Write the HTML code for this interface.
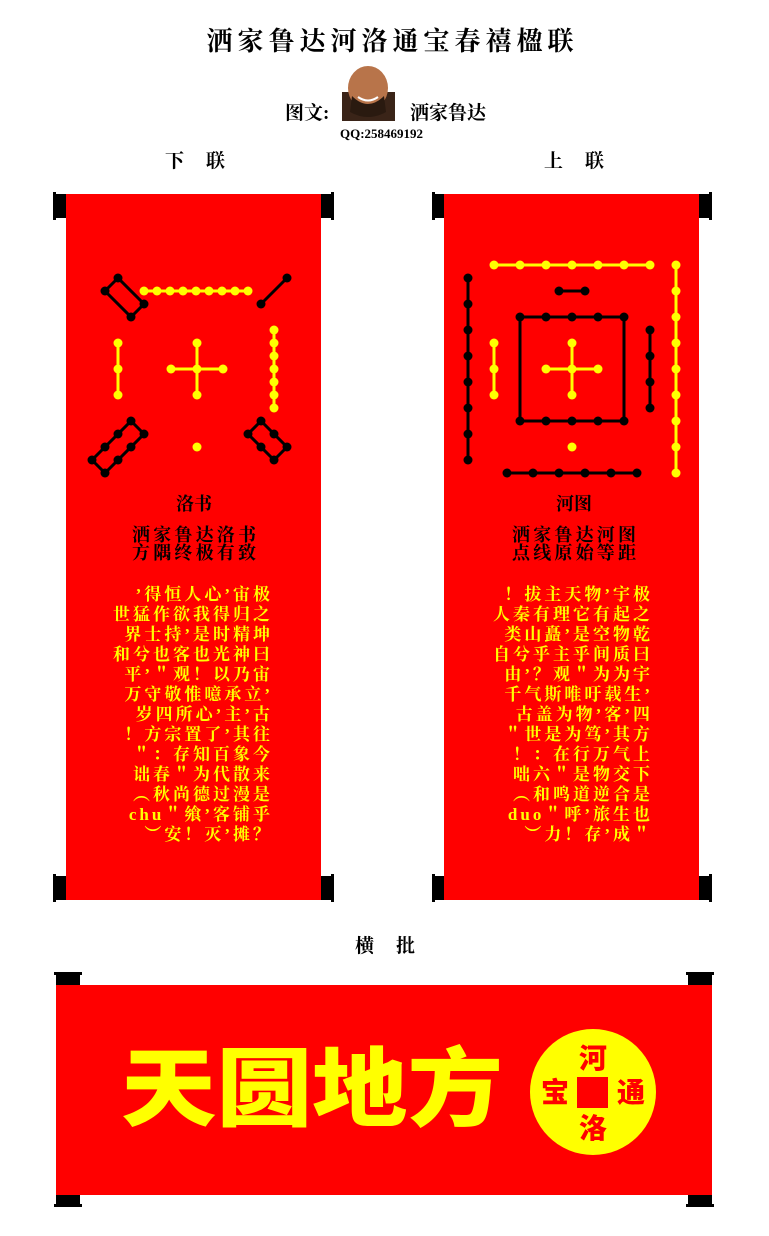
<!DOCTYPE html>
<html><head><meta charset="utf-8"><style>
html,body{margin:0;padding:0;background:#fff;}
svg{display:block}
.t{font-family:"Liberation Serif","Noto Serif CJK SC",serif;font-weight:bold;}
.y{fill:#ffff00;font-family:"Liberation Serif","Noto Serif CJK SC",serif;font-weight:bold;font-size:17px;letter-spacing:3px;}
.k{fill:#000;font-family:"Liberation Serif","Noto Serif CJK SC",serif;font-size:18px;}
</style></head><body>
<svg width="769" height="1236" viewBox="0 0 769 1236" xmlns="http://www.w3.org/2000/svg">
<rect width="769" height="1236" fill="#fff"/>
<text class="t" x="390" y="50" font-size="26" text-anchor="middle" textLength="367" lengthAdjust="spacing">洒家鲁达河洛通宝春禧楹联</text>
<text class="t" x="285" y="119" font-size="19" font-weight="normal">图文:</text>
<g>
<rect x="342" y="92" width="53" height="29" fill="#3a2418"/>
<ellipse cx="368" cy="88" rx="20" ry="22" fill="#b8744a"/>
<path d="M352 96 Q368 112 384 96 L386 112 Q368 122 350 112 Z" fill="#2a1a10"/>
<path d="M358 97 Q368 104 378 97" stroke="#fff" stroke-width="2" fill="none"/>
</g>
<text class="t" x="410" y="119" font-size="19" font-weight="normal">洒家鲁达</text>
<text class="t" x="340" y="138" font-size="13">QQ:258469192</text>
<text class="t" x="165" y="167" font-size="19" textLength="60">下 联</text>
<text class="t" x="544" y="167" font-size="19" textLength="60">上 联</text>

<rect x="66" y="194" width="255" height="706" fill="#ff0000"/>
<g fill="#000">
<rect x="54" y="194" width="12" height="24"/><rect x="53" y="192" width="3" height="28"/>
<rect x="321" y="194" width="12" height="24"/><rect x="331" y="192" width="3" height="28"/>
<rect x="54" y="876" width="12" height="24"/><rect x="53" y="874" width="3" height="28"/>
<rect x="321" y="876" width="12" height="24"/><rect x="331" y="874" width="3" height="28"/>
<rect x="433" y="194" width="11" height="24"/><rect x="432" y="192" width="3" height="28"/>
<rect x="699" y="194" width="11" height="24"/><rect x="709" y="192" width="3" height="28"/>
<rect x="433" y="876" width="11" height="24"/><rect x="432" y="874" width="3" height="28"/>
<rect x="699" y="876" width="11" height="24"/><rect x="709" y="874" width="3" height="28"/>
</g>
<rect x="444" y="194" width="255" height="706" fill="#ff0000"/>

<g stroke="#000" stroke-width="3" fill="none">
<polygon points="118,278 105,291 131,317 144,304"/>
<line x1="287" y1="278" x2="261" y2="304"/>
<polygon points="131,421 92,460 105,473 144,434"/>
<polygon points="261,421 248,434 274,460 287,447"/>
</g>
<g fill="#000">
<circle cx="118" cy="278" r="4.5"/><circle cx="105" cy="291" r="4.5"/><circle cx="131" cy="317" r="4.5"/><circle cx="144" cy="304" r="4.5"/>
<circle cx="287" cy="278" r="4.5"/><circle cx="261" cy="304" r="4.5"/>
<circle cx="131" cy="421" r="4.5"/><circle cx="144" cy="434" r="4.5"/><circle cx="118" cy="434" r="4.5"/><circle cx="105" cy="447" r="4.5"/><circle cx="131" cy="447" r="4.5"/><circle cx="92" cy="460" r="4.5"/><circle cx="118" cy="460" r="4.5"/><circle cx="105" cy="473" r="4.5"/>
<circle cx="261" cy="421" r="4.5"/><circle cx="248" cy="434" r="4.5"/><circle cx="274" cy="434" r="4.5"/><circle cx="261" cy="447" r="4.5"/><circle cx="287" cy="447" r="4.5"/><circle cx="274" cy="460" r="4.5"/>
</g>
<g stroke="#ffff00" stroke-width="3">
<line x1="144" y1="291" x2="248" y2="291"/>
<line x1="118" y1="343" x2="118" y2="395"/>
<line x1="171" y1="369" x2="223" y2="369"/><line x1="197" y1="343" x2="197" y2="395"/>
<line x1="274" y1="330" x2="274" y2="408"/>
</g>
<g fill="#ffff00">
<circle cx="144" cy="291" r="4.5"/><circle cx="157" cy="291" r="4.5"/><circle cx="170" cy="291" r="4.5"/><circle cx="183" cy="291" r="4.5"/><circle cx="196" cy="291" r="4.5"/><circle cx="209" cy="291" r="4.5"/><circle cx="222" cy="291" r="4.5"/><circle cx="235" cy="291" r="4.5"/><circle cx="248" cy="291" r="4.5"/>
<circle cx="118" cy="343" r="4.5"/><circle cx="118" cy="369" r="4.5"/><circle cx="118" cy="395" r="4.5"/>
<circle cx="197" cy="369" r="4.5"/><circle cx="171" cy="369" r="4.5"/><circle cx="223" cy="369" r="4.5"/><circle cx="197" cy="343" r="4.5"/><circle cx="197" cy="395" r="4.5"/>
<circle cx="274" cy="330" r="4.5"/><circle cx="274" cy="343" r="4.5"/><circle cx="274" cy="356" r="4.5"/><circle cx="274" cy="369" r="4.5"/><circle cx="274" cy="382" r="4.5"/><circle cx="274" cy="395" r="4.5"/><circle cx="274" cy="408" r="4.5"/>
<circle cx="197" cy="447" r="4.5"/>
</g>

<g stroke="#000" stroke-width="3" fill="none">
<line x1="468" y1="278" x2="468" y2="460"/>
<line x1="507" y1="473" x2="637" y2="473"/>
<line x1="559" y1="291" x2="585" y2="291"/>
<rect x="520" y="317" width="104" height="104"/>
<line x1="650" y1="330" x2="650" y2="408"/>
</g>
<g fill="#000">
<circle cx="468" cy="278" r="4.5"/><circle cx="468" cy="304" r="4.5"/><circle cx="468" cy="330" r="4.5"/><circle cx="468" cy="356" r="4.5"/><circle cx="468" cy="382" r="4.5"/><circle cx="468" cy="408" r="4.5"/><circle cx="468" cy="434" r="4.5"/><circle cx="468" cy="460" r="4.5"/>
<circle cx="507" cy="473" r="4.5"/><circle cx="533" cy="473" r="4.5"/><circle cx="559" cy="473" r="4.5"/><circle cx="585" cy="473" r="4.5"/><circle cx="611" cy="473" r="4.5"/><circle cx="637" cy="473" r="4.5"/>
<circle cx="559" cy="291" r="4.5"/><circle cx="585" cy="291" r="4.5"/>
<circle cx="520" cy="317" r="4.5"/><circle cx="546" cy="317" r="4.5"/><circle cx="572" cy="317" r="4.5"/><circle cx="598" cy="317" r="4.5"/><circle cx="624" cy="317" r="4.5"/>
<circle cx="520" cy="421" r="4.5"/><circle cx="546" cy="421" r="4.5"/><circle cx="572" cy="421" r="4.5"/><circle cx="598" cy="421" r="4.5"/><circle cx="624" cy="421" r="4.5"/>
<circle cx="650" cy="330" r="4.5"/><circle cx="650" cy="356" r="4.5"/><circle cx="650" cy="382" r="4.5"/><circle cx="650" cy="408" r="4.5"/>
</g>
<g stroke="#ffff00" stroke-width="3">
<line x1="494" y1="265" x2="650" y2="265"/>
<line x1="676" y1="265" x2="676" y2="473"/>
<line x1="494" y1="343" x2="494" y2="395"/>
<line x1="546" y1="369" x2="598" y2="369"/><line x1="572" y1="343" x2="572" y2="395"/>
</g>
<g fill="#ffff00">
<circle cx="494" cy="265" r="4.5"/><circle cx="520" cy="265" r="4.5"/><circle cx="546" cy="265" r="4.5"/><circle cx="572" cy="265" r="4.5"/><circle cx="598" cy="265" r="4.5"/><circle cx="624" cy="265" r="4.5"/><circle cx="650" cy="265" r="4.5"/>
<circle cx="676" cy="265" r="4.5"/><circle cx="676" cy="291" r="4.5"/><circle cx="676" cy="317" r="4.5"/><circle cx="676" cy="343" r="4.5"/><circle cx="676" cy="369" r="4.5"/><circle cx="676" cy="395" r="4.5"/><circle cx="676" cy="421" r="4.5"/><circle cx="676" cy="447" r="4.5"/><circle cx="676" cy="473" r="4.5"/>
<circle cx="494" cy="343" r="4.5"/><circle cx="494" cy="369" r="4.5"/><circle cx="494" cy="395" r="4.5"/>
<circle cx="572" cy="369" r="4.5"/><circle cx="546" cy="369" r="4.5"/><circle cx="598" cy="369" r="4.5"/><circle cx="572" cy="343" r="4.5"/><circle cx="572" cy="395" r="4.5"/>
<circle cx="572" cy="447" r="4.5"/>
</g>

<text class="k" x="194" y="510" text-anchor="middle" font-weight="bold">洛书</text>
<text class="k" x="194" y="541" text-anchor="middle" font-weight="bold" textLength="124">洒家鲁达洛书</text>
<text class="k" x="194" y="559" text-anchor="middle" font-weight="bold" textLength="124">方隅终极有致</text>
<text class="k" x="574" y="510" text-anchor="middle" font-weight="bold">河图</text>
<text class="k" x="574" y="541" text-anchor="middle" font-weight="bold" textLength="124">洒家鲁达河图</text>
<text class="k" x="574" y="559" text-anchor="middle" font-weight="bold" textLength="124">点线原始等距</text>

<g class="y" text-anchor="end">
<text x="273" y="600">’得恒人心’宙极</text>
<text x="273" y="620">世猛作欲我得归之</text>
<text x="273" y="640">界士持’是时精坤</text>
<text x="273" y="660">和兮也客也光神曰</text>
<text x="273" y="680">平’＂观！以乃宙</text>
<text x="273" y="700">万守敬惟噫承立’</text>
<text x="273" y="720">岁四所心’主’古</text>
<text x="273" y="740">！方宗置了’其往</text>
<text x="273" y="760">＂：存知百象今</text>
<text x="273" y="780">诎春＂为代散来</text>
<text x="273" y="800">︵秋尚德过漫是</text>
<text x="273" y="820">chu＂飨’客铺乎</text>
<text x="273" y="840">︶安！灭’摊？</text>
</g>
<g class="y" text-anchor="end">
<text x="653" y="600">！拔主天物’宇极</text>
<text x="653" y="620">人秦有理它有起之</text>
<text x="653" y="640">类山矗’是空物乾</text>
<text x="653" y="660">自兮乎主乎间质曰</text>
<text x="653" y="680">由’？观＂为为宇</text>
<text x="653" y="700">千气斯唯吁载生’</text>
<text x="653" y="720">古盖为物’客’四</text>
<text x="653" y="740">＂世是为笃’其方</text>
<text x="653" y="760">！：在行万气上</text>
<text x="653" y="780">咄六＂是物交下</text>
<text x="653" y="800">︵和鸣道逆合是</text>
<text x="653" y="820">duo＂呼’旅生也</text>
<text x="653" y="840">︶力！存’成＂</text>
</g>

<text class="t" x="355" y="952" font-size="19" textLength="60">横 批</text>
<g fill="#000">
<rect x="56" y="973" width="24" height="12"/><rect x="54" y="972" width="28" height="3"/>
<rect x="688" y="973" width="24" height="12"/><rect x="686" y="972" width="28" height="3"/>
<rect x="56" y="1195" width="24" height="12"/><rect x="54" y="1204" width="28" height="3"/>
<rect x="688" y="1195" width="24" height="12"/><rect x="686" y="1204" width="28" height="3"/>
</g>
<rect x="56" y="985" width="656" height="210" fill="#ff0000"/>
<text x="121" y="1119" font-family="'Noto Sans CJK SC',sans-serif" font-weight="900" font-size="86" fill="#ffff00" textLength="382" lengthAdjust="spacingAndGlyphs">天圆地方</text>
<circle cx="593" cy="1092" r="63" fill="#ffff00"/>
<rect x="577" y="1077" width="31" height="31" fill="#ff0000"/>
<g font-family="'Noto Sans CJK SC',sans-serif" font-weight="900" font-size="28" fill="#ff0000" text-anchor="middle">
<text x="593" y="1068">河</text>
<text x="593" y="1138">洛</text>
<text x="555" y="1102">宝</text>
<text x="631" y="1102">通</text>
</g>
</svg>
</body></html>
